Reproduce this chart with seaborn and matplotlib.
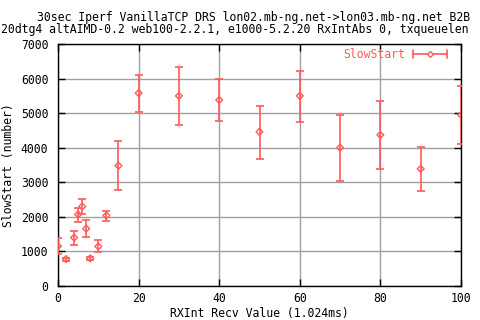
import matplotlib
matplotlib.use("Agg")
import matplotlib.pyplot as plt
import seaborn as sns
import pandas as pd
import numpy as np

x_vals = [0, 2, 4, 5, 6, 7, 8, 10, 12, 15, 20, 30, 40, 50, 60, 70, 80, 90, 100]
y_vals = [1150, 780, 1400, 2070, 2300, 1660, 800, 1145, 2040, 3480, 5580, 5500, 5380, 4460, 5500, 4000, 4370, 3390, 4950]
y_low = [920, 730, 1200, 1840, 2070, 1430, 750, 980, 1890, 2770, 5035, 4660, 4775, 3685, 4745, 3045, 3390, 2760, 4110]
y_high = [1400, 815, 1605, 2270, 2525, 1895, 835, 1345, 2170, 4200, 6100, 6330, 5985, 5205, 6215, 4950, 5350, 4025, 5785]

title1 = "30sec Iperf VanillaTCP DRS lon02.mb-ng.net->lon03.mb-ng.net B2B"
title2 = "20dtg4 altAIMD-0.2 web100-2.2.1, e1000-5.2.20 RxIntAbs 0, txqueuelen"
xlabel = "RXInt Recv Value (1.024ms)"
ylabel = "SlowStart (number)"
series = "SlowStart"

df = pd.DataFrame({"x": x_vals, "y": y_vals, "lo": y_low, "hi": y_high})

sns.set_theme(style="white")
plt.rcParams['font.family'] = ['DejaVu Sans Mono']
fs = 8.3
red = "#ff5a5a"

fig = plt.figure(figsize=(4.8, 3.2), dpi=100)
W, H = 480, 320
ax = fig.add_axes([58 / W, 1 - 286 / H, (461 - 58) / W, (286 - 44) / H])

yerr = np.array([df["y"] - df["lo"], df["hi"] - df["y"]])
ax.errorbar(df["x"], df["y"], yerr=yerr, fmt="none", ecolor=red, elinewidth=1.2,
            capsize=3, capthick=1.2, zorder=3)
sns.scatterplot(data=df, x="x", y="y", ax=ax, marker="D", s=12, facecolor="none",
                edgecolor=red, linewidth=1.0, zorder=4, legend=False)

ax.set_xlim(0, 100)
ax.set_ylim(0, 7000)
ax.set_xticks(np.arange(0, 101, 20))
ax.set_yticks(np.arange(0, 7001, 1000))
ax.grid(True, color="#a0a0a0", linewidth=1.0)
ax.set_axisbelow(True)
for s in ax.spines.values():
    s.set_color("black")
    s.set_linewidth(1.0)
ax.tick_params(direction="in", length=5, width=1, colors="black", labelsize=fs,
               top=True, right=True, bottom=True, left=True)
ax.tick_params(axis="x", pad=4)
ax.tick_params(axis="y", pad=7)
ax.set_xlabel(xlabel, fontsize=fs, color="black", labelpad=2)
ax.set_ylabel(ylabel, fontsize=fs, color="black", labelpad=4)

fig.text(37 / W, 1 - 17 / H, title1, fontsize=fs, ha="left", va="center", color="black")
fig.text(1 / W, 1 - 29 / H, title2, fontsize=fs, ha="left", va="center", color="black")

# legend
ax.text(405 / W, 1 - 54 / H, series, transform=fig.transFigure, fontsize=fs, color=red,
        ha="right", va="center")
ly = 1 - 54 / H
fig.add_artist(plt.Line2D([413 / W, 447 / W], [ly, ly], color=red, lw=1.2,
                          transform=fig.transFigure))
for xx in (413, 447):
    fig.add_artist(plt.Line2D([xx / W, xx / W], [ly - 4 / H, ly + 4 / H], color=red,
                              lw=1.2, transform=fig.transFigure))
fig.add_artist(plt.Line2D([430 / W], [ly], marker="D", markersize=3, mfc="white",
                          mec=red, color=red, transform=fig.transFigure))

fig.savefig("out.png", dpi=100)
